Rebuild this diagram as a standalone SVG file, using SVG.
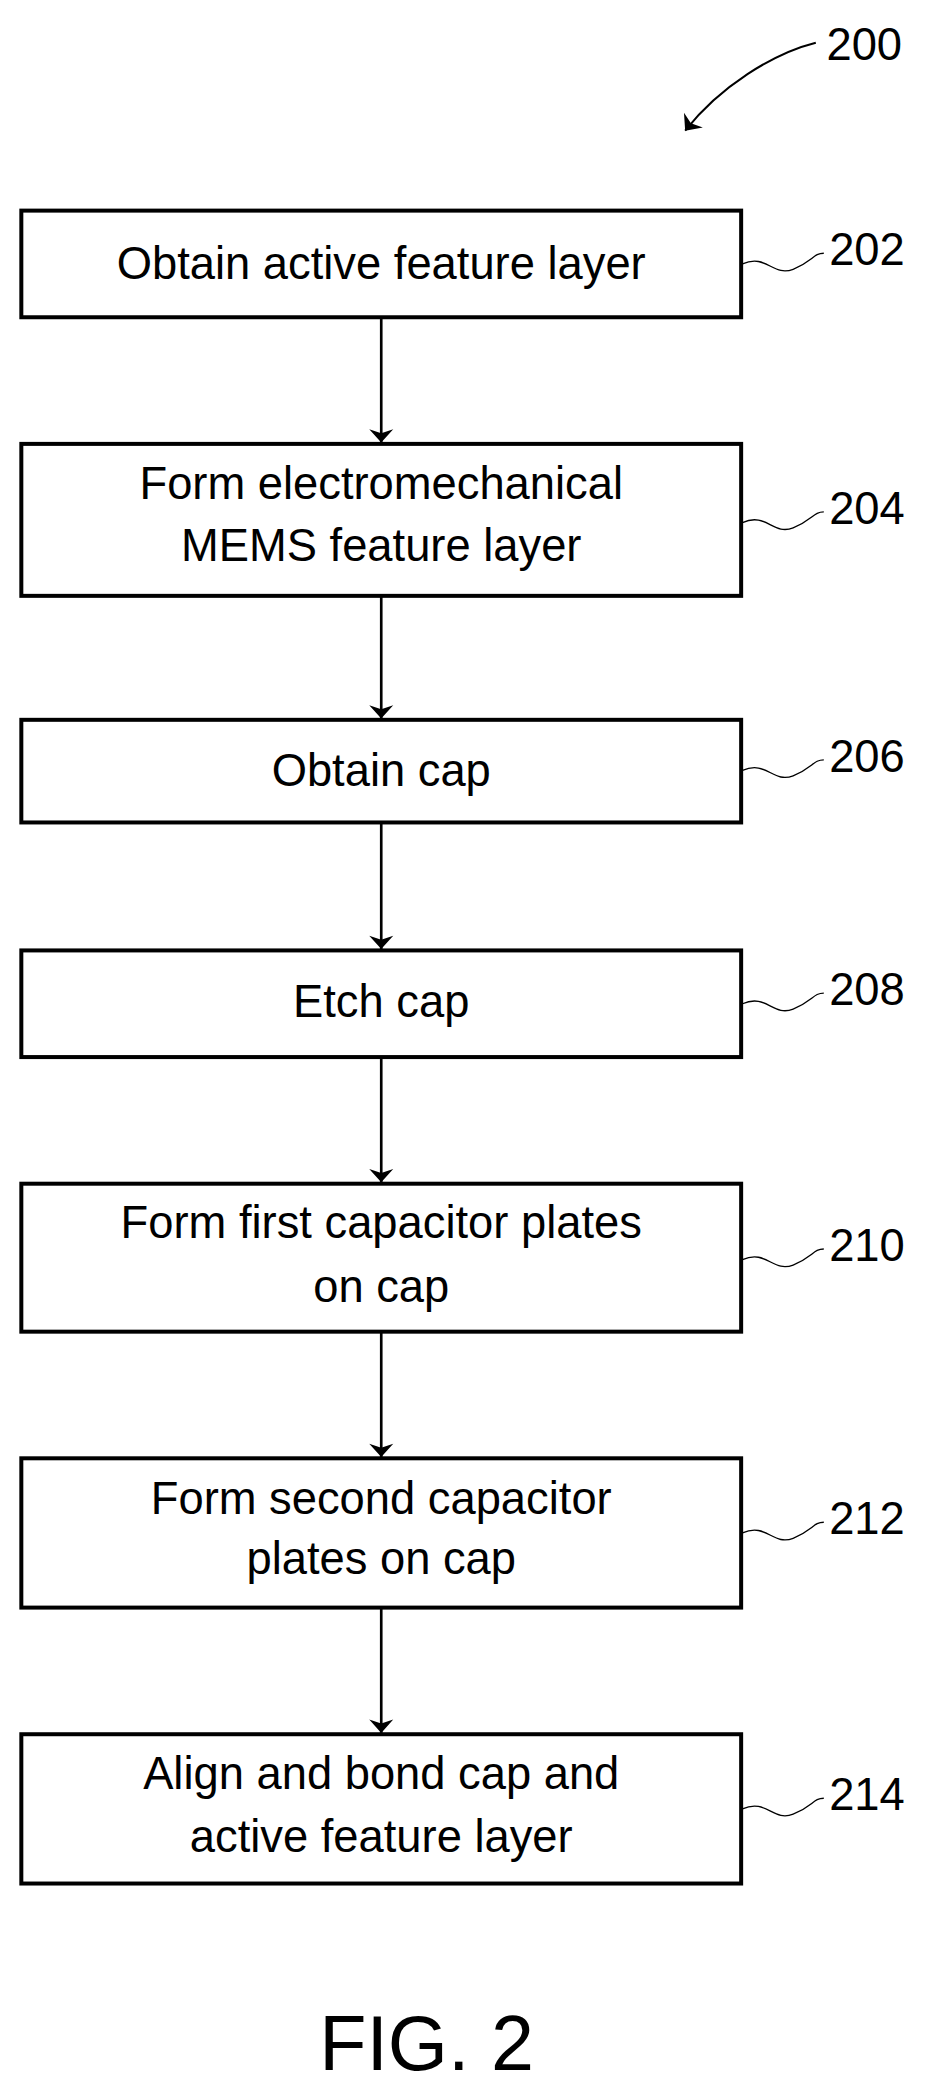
<svg xmlns="http://www.w3.org/2000/svg" width="935" height="2088" viewBox="0 0 935 2088">
<defs>
<style>
.box{fill:#fff;stroke:#000;stroke-width:3}
.t{font-family:"Liberation Sans",Arial,sans-serif;font-size:34px;text-anchor:middle;fill:#000}
.n{font-family:"Liberation Sans",Arial,sans-serif;font-size:34px;fill:#000}
.c{stroke:#000;stroke-width:2;fill:none}
.l{stroke:#000;stroke-width:1;fill:none}
</style>
<marker id="ah" viewBox="0 0 10 24" refX="10" refY="12" markerWidth="12" markerHeight="24" markerUnits="userSpaceOnUse" orient="auto"><path d="M0,3 L10,12 L0,21 L3,12 Z" fill="#000"/></marker>
</defs>
<rect width="935" height="2088" fill="#fff"/>
<g transform="scale(1.333)">
<g id="ref200"><text class="n" x="620" y="45">200</text><path class="l" d="M612,32 C580,40 540,65 514,98" marker-end="url(#ah)" style="stroke-width:1.5"/></g>
<g id="n202"><rect class="box" x="16" y="158" width="540" height="80"/><text class="t" x="286" y="209">Obtain active feature layer</text><path class="l" d="M557,198 C575,190 580,208 595,202 S610,190 618,190"/><text class="n" x="622" y="199">202</text></g>
<g id="n204"><rect class="box" x="16" y="333" width="540" height="114"/><text class="t" x="286" y="374">Form electromechanical</text><text class="t" x="286" y="421">MEMS feature layer</text><path class="l" d="M557,392 C575,384 580,402 595,396 S610,384 618,384"/><text class="n" x="622" y="393">204</text></g>
<g id="n206"><rect class="box" x="16" y="540" width="540" height="77"/><text class="t" x="286" y="590">Obtain cap</text><path class="l" d="M557,578 C575,570 580,588 595,582 S610,570 618,570"/><text class="n" x="622" y="579">206</text></g>
<g id="n208"><rect class="box" x="16" y="713" width="540" height="80"/><text class="t" x="286" y="763">Etch cap</text><path class="l" d="M557,753 C575,745 580,763 595,757 S610,745 618,745"/><text class="n" x="622" y="754">208</text></g>
<g id="n210"><rect class="box" x="16" y="888" width="540" height="111"/><text class="t" x="286" y="929">Form first capacitor plates</text><text class="t" x="286" y="977">on cap</text><path class="l" d="M557,945 C575,937 580,955 595,949 S610,937 618,937"/><text class="n" x="622" y="946">210</text></g>
<g id="n212"><rect class="box" x="16" y="1094" width="540" height="112"/><text class="t" x="286" y="1136">Form second capacitor</text><text class="t" x="286" y="1181">plates on cap</text><path class="l" d="M557,1150 C575,1142 580,1160 595,1154 S610,1142 618,1142"/><text class="n" x="622" y="1151">212</text></g>
<g id="n214"><rect class="box" x="16" y="1301" width="540" height="112"/><text class="t" x="286" y="1342">Align and bond cap and</text><text class="t" x="286" y="1389">active feature layer</text><path class="l" d="M557,1357 C575,1349 580,1367 595,1361 S610,1349 618,1349"/><text class="n" x="622" y="1358">214</text></g>
<g id="connectors">
<line class="c" x1="286" y1="238" x2="286" y2="332" marker-end="url(#ah)"/>
<line class="c" x1="286" y1="447" x2="286" y2="539" marker-end="url(#ah)"/>
<line class="c" x1="286" y1="617" x2="286" y2="712" marker-end="url(#ah)"/>
<line class="c" x1="286" y1="793" x2="286" y2="887" marker-end="url(#ah)"/>
<line class="c" x1="286" y1="999" x2="286" y2="1093" marker-end="url(#ah)"/>
<line class="c" x1="286" y1="1206" x2="286" y2="1300" marker-end="url(#ah)"/>
</g>
<text class="n" x="320" y="1553" style="font-size:58px;text-anchor:middle">FIG. 2</text>
</g>
</svg>
